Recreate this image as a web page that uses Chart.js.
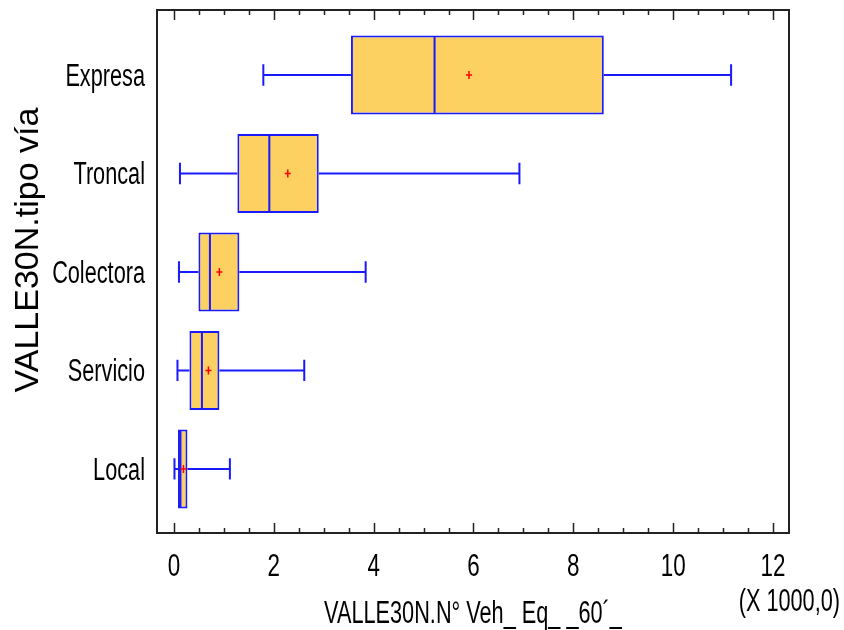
<!DOCTYPE html>
<html>
<head>
<meta charset="utf-8">
<script src="https://cdn.jsdelivr.net/npm/chart.js@4.4.1/dist/chart.umd.min.js"></script>
<style>
  html, body { margin: 0; padding: 0; background: #fff; }
  #wrap { width: 844px; height: 630px; }
</style>
</head>
<body>
<div id="wrap"><canvas id="chart" width="844" height="630"></canvas></div>
<script>
const categories = ["Expresa", "Troncal", "Colectora", "Servicio", "Local"];
const whiskerMin = [1790, 120, 100, 70, 10];
const q1 = [3545, 1270, 490, 310, 80];
const median = [5220, 1910, 720, 560, 130];
const q3 = [8610, 2900, 1310, 910, 270];
const whiskerMax = [11160, 6920, 3840, 2610, 1120];
const mean = [5910, 2280, 910, 690, 190];
const xTickValues = [0, 2000, 4000, 6000, 8000, 10000, 12000];
const xTickLabels = ["0", "2", "4", "6", "8", "10", "12"];

const FONT = "'Liberation Sans', Arial, sans-serif";
const SQUEEZE = 0.7; // the source uses a very narrow face
const BLUE = "#1a1aff";

// narrow text: draw with the regular face squeezed horizontally
function narrowText(ctx, text, x, y, align) {
  ctx.save();
  ctx.translate(x, y);
  ctx.scale(SQUEEZE, 1);
  ctx.textAlign = align;
  ctx.fillText(text, 0, 0);
  ctx.restore();
}

const boxParts = {
  id: "boxParts",
  afterDatasetsDraw(chart) {
    const { ctx, scales: { x, y } } = chart;
    ctx.save();
    categories.forEach((cat, i) => {
      const cy = y.getPixelForValue(i);
      const half = y.getPixelForValue(0.4) - y.getPixelForValue(0);
      const cap = half * 0.27;
      ctx.strokeStyle = BLUE;
      ctx.lineWidth = 2;
      ctx.beginPath();
      ctx.moveTo(x.getPixelForValue(whiskerMin[i]), cy);
      ctx.lineTo(x.getPixelForValue(q1[i]), cy);
      ctx.moveTo(x.getPixelForValue(q3[i]), cy);
      ctx.lineTo(x.getPixelForValue(whiskerMax[i]), cy);
      ctx.moveTo(x.getPixelForValue(whiskerMin[i]), cy - cap);
      ctx.lineTo(x.getPixelForValue(whiskerMin[i]), cy + cap);
      ctx.moveTo(x.getPixelForValue(whiskerMax[i]), cy - cap);
      ctx.lineTo(x.getPixelForValue(whiskerMax[i]), cy + cap);
      ctx.moveTo(x.getPixelForValue(median[i]), cy - half + 1);
      ctx.lineTo(x.getPixelForValue(median[i]), cy + half - 1);
      ctx.stroke();
      const mx = x.getPixelForValue(mean[i]);
      ctx.strokeStyle = "#ff0000";
      ctx.lineWidth = 1.5;
      ctx.beginPath();
      ctx.moveTo(mx - 3, cy);
      ctx.lineTo(mx + 3, cy);
      ctx.moveTo(mx, cy - 4);
      ctx.lineTo(mx, cy + 4);
      ctx.stroke();
    });
    ctx.restore();
  },
  afterDraw(chart) {
    const { ctx, chartArea: a, scales: { x, y } } = chart;
    ctx.save();
    ctx.strokeStyle = "#222";
    ctx.lineWidth = 2;
    ctx.strokeRect(a.left, a.top, a.right - a.left, a.bottom - a.top);
    ctx.lineWidth = 1.5;
    ctx.beginPath();
    for (let v = -500; v <= x.max; v += 500) {
      if (v < x.min) continue;
      const px = Math.round(x.getPixelForValue(v)) + 0.5;
      const len = v % 2000 === 0 ? 10 : 5;
      ctx.moveTo(px, a.bottom);
      ctx.lineTo(px, a.bottom - len);
      ctx.moveTo(px, a.top);
      ctx.lineTo(px, a.top + len);
    }
    ctx.stroke();

    ctx.fillStyle = "#000";
    ctx.textBaseline = "alphabetic";
    ctx.font = "31px " + FONT;
    categories.forEach((cat, i) => {
      narrowText(ctx, cat, a.left - 12, y.getPixelForValue(i) + 11, "right");
    });
    ctx.font = "32px " + FONT;
    xTickValues.forEach((v, i) => {
      narrowText(ctx, xTickLabels[i], x.getPixelForValue(v), a.bottom + 43, "center");
    });
    ctx.font = "31px " + FONT;
    narrowText(ctx, "(X 1000,0)", 840, 611, "right");
    narrowText(ctx, "VALLE30N.N\u00b0 Veh_ Eq_ _60\u00b4_", (a.left + a.right) / 2, 623, "center");

    ctx.translate(38, 250);
    ctx.rotate(-Math.PI / 2);
    ctx.textAlign = "center";
    ctx.font = "34px " + FONT;
    ctx.fillText("VALLE30N.tipo v\u00eda", 0, 0);
    ctx.restore();
  }
};

new Chart(document.getElementById("chart"), {
  type: "bar",
  data: {
    datasets: [{
      data: categories.map((c, i) => ({ x: [q1[i], q3[i]], y: i })),
      backgroundColor: "#fdd062",
      borderColor: BLUE,
      borderWidth: 2,
      borderSkipped: false,
      categoryPercentage: 1,
      barPercentage: 0.8
    }]
  },
  options: {
    indexAxis: "y",
    responsive: false,
    animation: false,
    events: [],
    layout: { padding: { top: 10, right: 55, left: 0, bottom: 0 } },
    plugins: { legend: { display: false }, tooltip: { enabled: false } },
    scales: {
      x: {
        type: "linear",
        min: -340,
        max: 12320,
        offset: false,
        grid: { display: false, drawTicks: false },
        border: { display: false },
        afterBuildTicks: (s) => { s.ticks = xTickValues.map((v) => ({ value: v })); },
        ticks: { display: false },
        afterFit: (s) => { s.height = 97; }
      },
      y: {
        type: "linear",
        min: -0.66,
        max: 4.65,
        reverse: true,
        offset: false,
        grid: { display: false, drawTicks: false, offset: false },
        border: { display: false },
        afterBuildTicks: (s) => { s.ticks = categories.map((c, i) => ({ value: i })); },
        ticks: { display: false },
        afterFit: (s) => { s.width = 157; }
      }
    }
  },
  plugins: [boxParts]
});
</script>
</body>
</html>
